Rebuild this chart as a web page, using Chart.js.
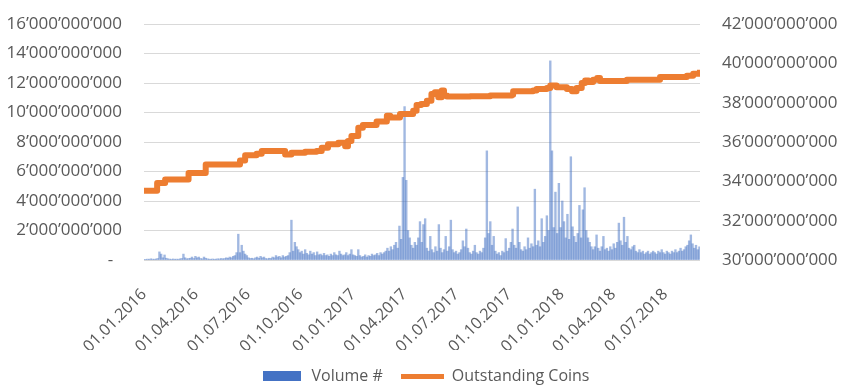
<!DOCTYPE html>
<html><head><meta charset="utf-8">
<script src="https://cdn.jsdelivr.net/npm/chart.js@4"></script>
<style>html,body{margin:0;padding:0;background:#fff}</style>
</head><body>
<canvas id="c" width="850" height="392"></canvas>
<script>
// Days counted from 01.01.2016
const VOLUME_STEP_DAYS = 3;
const volumeBn = [
0.05,0.04,0.06,0.05,0.08,0.06,0.05,0.07,0.1,0.55,
0.4,0.15,0.34,0.12,0.08,0.06,0.05,0.07,0.05,0.06,
0.05,0.08,0.1,0.4,0.15,0.08,0.1,0.12,0.2,0.1,
0.25,0.15,0.2,0.1,0.08,0.2,0.12,0.08,0.06,0.05,
0.07,0.05,0.06,0.08,0.07,0.1,0.08,0.1,0.15,0.12,
0.2,0.15,0.25,0.3,0.5,1.75,0.5,1.0,0.6,0.4,
0.3,0.15,0.1,0.12,0.08,0.15,0.2,0.12,0.25,0.15,
0.2,0.1,0.08,0.12,0.1,0.2,0.15,0.3,0.2,0.25,0.15,0.3,
0.2,0.25,0.3,0.5,2.7,0.6,1.2,0.9,0.7,0.5,
0.6,0.4,0.7,0.45,0.35,0.6,0.4,0.5,0.3,0.55,
0.35,0.4,0.3,0.45,0.3,0.35,0.25,0.4,0.3,0.5,
0.35,0.3,0.6,0.4,0.3,0.35,0.5,0.3,0.4,0.7,
0.35,0.3,0.25,0.7,0.3,0.2,0.25,0.35,0.2,0.3,
0.25,0.4,0.3,0.35,0.45,0.3,0.5,0.4,0.5,0.6,
0.8,0.6,0.9,0.7,1.0,1.2,0.8,2.3,1.4,5.6,
10.4,5.4,2.0,1.5,1.0,0.8,1.2,1.0,1.5,2.6,1.2,2.4,
2.8,0.8,0.6,1.6,0.7,0.5,0.9,0.6,2.4,0.8,
0.5,0.7,1.6,0.6,0.9,2.7,0.7,0.5,0.6,0.4,
0.5,0.7,1.3,0.9,2.1,0.8,0.5,0.4,0.6,1.0,
0.5,0.4,0.6,0.5,0.8,1.5,7.4,1.8,2.6,1.0,
1.6,0.6,0.4,0.5,0.3,0.6,0.5,1.45,0.6,0.8,
1.2,2.1,1.0,0.8,3.6,1.2,0.7,0.6,0.9,0.7,
1.5,0.8,1.1,0.9,4.8,1.0,1.3,0.9,2.8,1.2,
1.6,3.0,2.0,13.5,7.4,2.2,4.6,1.8,5.2,2.2,4.0,2.6,
1.5,3.1,1.4,7.0,2.25,1.6,1.2,1.8,3.7,1.5,
3.4,4.9,2.0,1.5,1.2,0.9,0.7,0.9,1.7,0.8,
0.6,0.9,1.6,0.7,0.8,0.6,0.9,0.7,1.1,0.8,
1.2,2.5,1.3,1.0,2.9,1.2,1.6,0.8,0.7,0.9,
1.0,0.6,0.5,0.7,0.5,0.6,0.4,0.5,0.6,0.4,
0.5,0.6,0.5,0.4,0.6,0.5,0.7,0.5,0.4,0.6,
0.5,0.4,0.6,0.5,0.7,0.5,0.6,0.8,0.6,0.7,
0.9,1.0,1.3,1.7,1.1,0.8,1.0,0.7,0.9
];
const coinDays = [0,23,37,78,108,168,177,197,206,247,258,282,302,311,322,340,352,357,363,375,383,407,425,431,448,471,477,485,495,503,509,515,521,525,530,571,606,644,646,681,687,705,711,722,740,749,757,766,772,778,786,793,798,845,903,950,961,973];
const coinBn   = [33.52,33.92,34.09,34.43,34.86,35.06,35.32,35.40,35.54,35.37,35.45,35.50,35.54,35.71,35.88,35.96,35.79,36.05,36.31,36.73,36.87,37.04,37.33,37.25,37.42,37.59,37.88,37.93,38.10,38.44,38.53,38.27,38.62,38.36,38.31,38.33,38.36,38.40,38.58,38.62,38.70,38.75,38.87,38.79,38.70,38.58,38.75,39.00,39.13,39.05,39.16,39.26,39.10,39.16,39.30,39.37,39.47,39.67];
const tickDays   = [0,91,182,274,366,456,547,639,731,821,912];
const tickLabels = ['01.01.2016','01.04.2016','01.07.2016','01.10.2016','01.01.2017','01.04.2017','01.07.2017','01.10.2017','01.01.2018','01.04.2018','01.07.2018'];
const seriesNames = ['Volume #','Outstanding Coins'];

const BLUE = '#4472C4', ORANGE = '#ED7D31', TXT = '#595959';
const FONT = {family: '"Open Sans", sans-serif', size: 16};
const YFONT = {family: '"Open Sans", sans-serif', size: 17};
const fmt = v => v === 0 ? '-  ' : Math.round(v).toString().replace(/\B(?=(\d{3})+(?!\d))/g, '\u2019');

function swatch(w, h, color) {
  const c = document.createElement('canvas'); c.width = w; c.height = h;
  const g = c.getContext('2d'); g.fillStyle = color; g.fillRect(0, 0, w, h); return c;
}
const volSw = swatch(38, 10, BLUE), coinSw = swatch(43, 5, ORANGE);
const fitY = w => ax => { ax.width = w; ax.paddingTop = 24; ax.paddingBottom = 0; };

new Chart(document.getElementById('c'), {
  type: 'bar',
  data: {
    datasets: [
      { type: 'bar', label: seriesNames[0], yAxisID: 'y', order: 2,
        data: volumeBn.map((v, i) => ({x: i * VOLUME_STEP_DAYS, y: v * 1e9})),
        backgroundColor: 'rgba(68,114,196,0.5)', borderWidth: 0,
        barPercentage: 1, categoryPercentage: 1 },
      { type: 'line', label: seriesNames[1], yAxisID: 'y1', order: 1,
        data: coinDays.map((d, i) => ({x: d, y: coinBn[i] * 1e9})),
        borderColor: ORANGE, backgroundColor: ORANGE, borderWidth: 6,
        pointRadius: 0, stepped: true, fill: false, borderJoinStyle: 'round' }
    ]
  },
  options: {
    responsive: false, animation: false, devicePixelRatio: 1,
    layout: {padding: {left: 0, right: 0, top: 0, bottom: -2}},
    scales: {
      x: { type: 'linear', min: 0, max: 973, offset: false,
        grid: {display: false}, border: {display: false},
        afterBuildTicks: ax => { ax.ticks = tickDays.map(v => ({value: v})); },
        afterFit: ax => { ax.height = 90; ax.paddingLeft = 0; ax.paddingRight = 0; },
        ticks: { autoSkip: false, minRotation: 45, maxRotation: 45, color: TXT, font: FONT, padding: 17,
          callback: v => { const k = tickDays.indexOf(v); return k >= 0 ? tickLabels[k] : ''; } } },
      y: { position: 'left', min: 0, max: 16e9,
        afterFit: fitY(144),
        grid: {color: '#D9D9D9', drawTicks: false}, border: {display: false},
        ticks: {stepSize: 2e9, color: TXT, font: YFONT, padding: 22, callback: fmt} },
      y1: { position: 'right', min: 30e9, max: 42e9,
        afterFit: fitY(150),
        grid: {display: false, drawTicks: false}, border: {display: false},
        ticks: {stepSize: 2e9, color: TXT, font: YFONT, padding: 22, callback: fmt} }
    },
    plugins: {
      tooltip: {enabled: false},
      legend: { position: 'bottom',
        labels: { usePointStyle: true, pointStyleWidth: 43, color: TXT, font: FONT, padding: 18,
          generateLabels: () => [
            {text: seriesNames[0], pointStyle: volSw, fillStyle: BLUE, strokeStyle: BLUE, lineWidth: 0, fontColor: TXT, datasetIndex: 0, hidden: false},
            {text: seriesNames[1], pointStyle: coinSw, fillStyle: ORANGE, strokeStyle: ORANGE, lineWidth: 0, fontColor: TXT, datasetIndex: 1, hidden: false}
          ] } }
    }
  }
});
</script>
</body></html>
